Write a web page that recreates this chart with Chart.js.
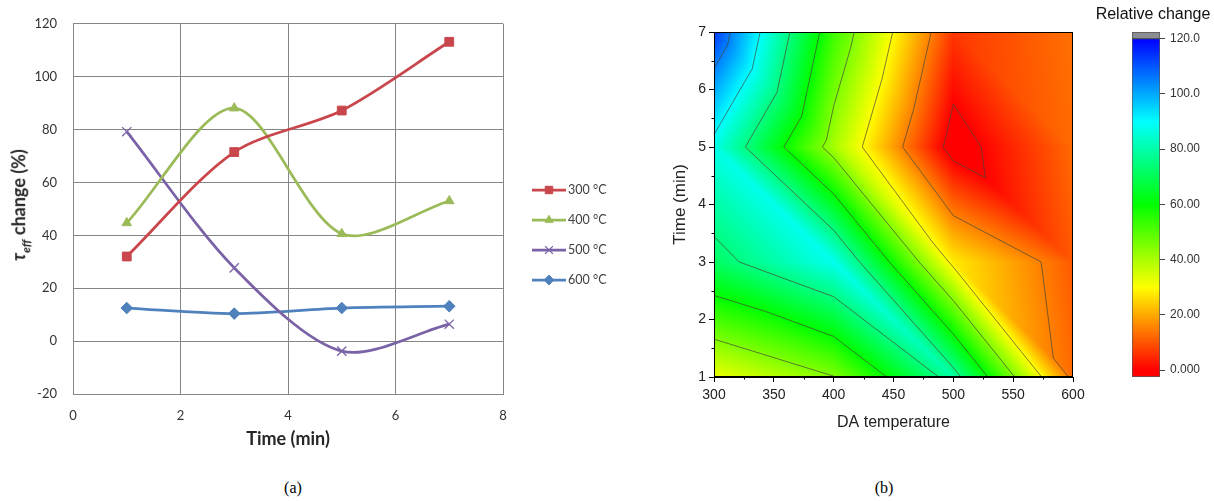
<!DOCTYPE html>
<html>
<head>
<meta charset="utf-8">
<script src="https://cdn.jsdelivr.net/npm/chart.js@4.4.1/dist/chart.umd.min.js"></script>
<style>
  body { margin: 0; background: #fff; }
  #wrap { position: relative; width: 1214px; height: 501px; overflow: hidden; background: #fff; }
  canvas { position: absolute; }
  .lbl { position: absolute; white-space: nowrap; }
  .cap { font: 16px "Liberation Serif", serif; color: #000; transform: translate(-50%, -50%); }
</style>
</head>
<body>
<div id="wrap">
  <canvas id="lineChart" width="640" height="460" style="left:0;top:0;width:640px;height:460px"></canvas>
  <div class="lbl" style="left:20px;top:205px;transform:translate(-50%,-50%) rotate(-90deg);font:bold 18px Lato, sans-serif;color:#262626">
    <i>τ<sub style="font-size:12px">eff</sub></i> change (%)
  </div>
  <canvas id="contourChart" width="440" height="440" style="left:660px;top:0;width:440px;height:440px"></canvas>
  <canvas id="cbChart" width="124" height="400" style="left:1090px;top:0;width:124px;height:400px"></canvas>
  <div class="lbl" style="left:1153px;top:14px;transform:translate(-50%,-50%);font:16px 'Liberation Sans', Arial, sans-serif;color:#111">Relative change</div>
  <div class="lbl cap" style="left:293px;top:488px">(a)</div>
  <div class="lbl cap" style="left:884px;top:488px">(b)</div>
</div>
<script>
// ---- data ----
const times = [1, 3, 5, 7];
const temps = [300, 400, 500, 600];
const tempLabels = ["300 °C", "400 °C", "500 °C", "600 °C"];
const change300 = [32.0, 71.5, 87.2, 113.2];
const change400 = [44.7, 88.1, 40.6, 53.0];
const change500 = [79.2, 27.7, -3.8, 6.4];
const change600 = [12.5, 10.4, 12.5, 13.2];

const contourLevels = [0, 15, 30, 45, 60, 75, 90, 105, 120];
const colorbarTicks = [0, 20, 40, 60, 80, 100, 120];
const colorbarRange = [-2.5, 120];
const colorbarCap = 122.4;

const grid = [change300, change400, change500, change600]; // grid[temp][time]

// ---- helpers ----
function rainbow(v) {
  const h = Math.max(0, Math.min(120, v)) * 2;
  const k = n => (n + h / 60) % 6;
  const f = n => 255 * (1 - Math.max(0, Math.min(k(n), 4 - k(n), 1)));
  return [f(5), f(3), f(1)];
}
function rainbowCss(v) {
  const c = rainbow(v);
  return `rgb(${c[0] | 0},${c[1] | 0},${c[2] | 0})`;
}
function cellIndex(arr, v) {
  let i = 0;
  while (i < arr.length - 2 && v > arr[i + 1]) i++;
  return i;
}
// linear interpolation on triangulated grid (diagonal top-left -> bottom-right)
function zAt(T, t) {
  const i = cellIndex(temps, T), j = cellIndex(times, t);
  const u = (T - temps[i]) / (temps[i + 1] - temps[i]);
  const v = (t - times[j]) / (times[j + 1] - times[j]);
  const zBL = grid[i][j], zBR = grid[i + 1][j], zTL = grid[i][j + 1], zTR = grid[i + 1][j + 1];
  if (u + v <= 1) return zBL + u * (zBR - zBL) + v * (zTL - zBL);
  return zTR + (1 - u) * (zTL - zTR) + (1 - v) * (zBR - zTR);
}

// ---- (a) line chart ----
const styles = [
  { color: "#C9474C", point: "rect", r: 6.2, bw: 1 },
  { color: "#9BBB59", point: "triangle", r: 5.5, bw: 1 },
  { color: "#7A62A6", point: "crossRot", r: 6.5, bw: 1.3 },
  { color: "#4F81BD", point: "rectRot", r: 5.8, bw: 1 }
];

const lineDatasets = grid.map((vals, k) => ({
  label: tempLabels[k],
  data: times.map((t, i) => ({ x: t, y: vals[i] })),
  showLine: true,
  borderColor: styles[k].color,
  backgroundColor: styles[k].color,
  borderWidth: 2.75,
  tension: 0.3,
  pointStyle: styles[k].point,
  pointRadius: styles[k].r,
  pointBorderWidth: styles[k].bw,
  pointBorderColor: styles[k].color,
  pointBackgroundColor: styles[k].color
}));

const legendTop = 190, legendStep = 30;
const sideLegend = {
  id: "sideLegend",
  afterDraw(chart) {
    const ctx = chart.ctx, ca = chart.chartArea;
    chart.data.datasets.forEach((ds, i) => {
      const y = legendTop + i * legendStep;
      const x0 = ca.right + 29, x1 = x0 + 34;
      ctx.save();
      ctx.strokeStyle = ds.borderColor;
      ctx.lineWidth = ds.borderWidth;
      ctx.beginPath(); ctx.moveTo(x0, y); ctx.lineTo(x1, y); ctx.stroke();
      ctx.fillStyle = ds.pointBackgroundColor;
      ctx.strokeStyle = ds.pointBorderColor;
      ctx.lineWidth = ds.pointBorderWidth;
      if (Chart.helpers && Chart.helpers.drawPoint) {
        Chart.helpers.drawPoint(ctx, { pointStyle: ds.pointStyle, rotation: 0, radius: ds.pointRadius * 0.85, borderWidth: ds.pointBorderWidth }, (x0 + x1) / 2, y);
      }
      ctx.fillStyle = "#404040";
      ctx.font = "12.5px Lato, sans-serif";
      ctx.textBaseline = "middle";
      ctx.fillText(ds.label, x1 + 2, y);
      ctx.restore();
    });
  }
};

const gridGray = "#868686";
new Chart(document.getElementById("lineChart"), {
  type: "scatter",
  data: { datasets: lineDatasets },
  options: {
    responsive: false,
    animation: false,
    devicePixelRatio: 1,
    layout: { padding: { top: 15, right: 137, left: 0, bottom: 0 } },
    plugins: { legend: { display: false }, tooltip: { enabled: false } },
    scales: {
      x: {
        type: "linear", min: 0, max: 8,
        ticks: { stepSize: 2, padding: 14, color: "#333", font: { family: "Lato", size: 13 } },
        grid: { color: gridGray, drawTicks: false },
        border: { color: gridGray },
        title: { display: true, text: "Time (min)", color: "#262626", font: { family: "Lato", size: 18, weight: "bold" }, padding: { top: 0, bottom: 10 } },
        afterFit: s => { s.height = 66; }
      },
      y: {
        min: -20, max: 120,
        ticks: { stepSize: 20, padding: 16, color: "#333", font: { family: "Lato", size: 13 } },
        grid: { color: gridGray, drawTicks: false },
        border: { color: gridGray },
        afterFit: s => { s.width = 73; }
      }
    }
  },
  plugins: [sideLegend]
});

// ---- (b) contour chart ----
const contourPlugin = {
  id: "contourFill",
  beforeDatasetsDraw(chart) {
    const { ctx, chartArea: ca } = chart;
    const sx = chart.scales.x, sy = chart.scales.y;
    const x0 = Math.round(ca.left), y0 = Math.round(ca.top);
    const w = Math.round(ca.right) - x0, h = Math.round(ca.bottom) - y0;
    const img = ctx.createImageData(w, h);
    for (let py = 0; py < h; py++) {
      const t = sy.getValueForPixel(y0 + py + 0.5);
      for (let px = 0; px < w; px++) {
        const T = sx.getValueForPixel(x0 + px + 0.5);
        const c = rainbow(zAt(T, t));
        const k = (py * w + px) * 4;
        img.data[k] = c[0]; img.data[k + 1] = c[1]; img.data[k + 2] = c[2]; img.data[k + 3] = 255;
      }
    }
    ctx.putImageData(img, x0, y0);

    // contour lines, marching triangles
    ctx.save();
    ctx.strokeStyle = "rgba(70,70,55,0.7)";
    ctx.lineWidth = 1;
    ctx.beginPath();
    const node = (i, j) => ({ T: temps[i], t: times[j], z: grid[i][j] });
    for (let i = 0; i < temps.length - 1; i++) {
      for (let j = 0; j < times.length - 1; j++) {
        const tris = [
          [node(i, j), node(i + 1, j), node(i, j + 1)],
          [node(i + 1, j + 1), node(i, j + 1), node(i + 1, j)]
        ];
        tris.forEach(tri => {
          contourLevels.forEach(L => {
            const pts = [];
            for (let e = 0; e < 3; e++) {
              const a = tri[e], b = tri[(e + 1) % 3];
              if ((a.z - L) * (b.z - L) < 0) {
                const f = (L - a.z) / (b.z - a.z);
                pts.push([sx.getPixelForValue(a.T + f * (b.T - a.T)), sy.getPixelForValue(a.t + f * (b.t - a.t))]);
              }
            }
            if (pts.length === 2) {
              ctx.moveTo(pts[0][0], pts[0][1]);
              ctx.lineTo(pts[1][0], pts[1][1]);
            }
          });
        });
      }
    }
    ctx.stroke();
    ctx.restore();
  },
  afterDraw(chart) {
    const { ctx, chartArea: ca } = chart;
    const sx = chart.scales.x, sy = chart.scales.y;
    ctx.save();
    ctx.strokeStyle = "#000";
    ctx.lineWidth = 1;
    const l = Math.round(ca.left) + 0.5, t = Math.round(ca.top) + 0.5;
    const r = Math.round(ca.right) - 0.5, b = Math.round(ca.bottom) - 0.5;
    ctx.strokeRect(l, t, r - l, b - t);
    ctx.beginPath();
    for (let k = 0; k < sx.ticks.length - 1; k++) {
      const px = Math.round(sx.getPixelForValue((sx.ticks[k].value + sx.ticks[k + 1].value) / 2)) + 0.5;
      ctx.moveTo(px, b); ctx.lineTo(px, b + 3);
    }
    for (let k = 0; k < sy.ticks.length - 1; k++) {
      const py = Math.round(sy.getPixelForValue((sy.ticks[k].value + sy.ticks[k + 1].value) / 2)) + 0.5;
      ctx.moveTo(l, py); ctx.lineTo(l - 3, py);
    }
    ctx.stroke();
    ctx.restore();
  }
};

const nodes = [];
temps.forEach((T, i) => times.forEach((t, j) => nodes.push({ x: T, y: t, z: grid[i][j] })));

const arial = "'Liberation Sans', Arial, sans-serif";
new Chart(document.getElementById("contourChart"), {
  type: "scatter",
  data: { datasets: [{ data: nodes, pointRadius: 0 }] },
  options: {
    responsive: false,
    animation: false,
    devicePixelRatio: 1,
    layout: { padding: { top: 32, right: 27, left: 0, bottom: 0 } },
    plugins: { legend: { display: false }, tooltip: { enabled: false } },
    scales: {
      x: {
        type: "linear", min: 300, max: 600,
        ticks: { stepSize: 50, padding: 5, color: "#222", font: { family: arial, size: 14 } },
        grid: { drawOnChartArea: false, tickLength: 5, color: "#000" },
        border: { color: "#000" },
        title: { display: true, text: "DA temperature", color: "#222", font: { family: arial, size: 16 }, padding: { top: 0, bottom: 8 } },
        afterFit: s => { s.height = 63; }
      },
      y: {
        min: 1, max: 7,
        ticks: { stepSize: 1, padding: 3, color: "#222", font: { family: arial, size: 14 } },
        grid: { drawOnChartArea: false, tickLength: 5, color: "#000" },
        border: { color: "#000" },
        title: { display: true, text: "Time (min)", color: "#222", font: { family: arial, size: 17 }, padding: { top: 10, bottom: 0 } },
        afterFit: s => { s.width = 54; }
      }
    }
  },
  plugins: [contourPlugin]
});

// ---- colour bar ----
function barGradient(c) {
  const chart = c.chart;
  if (!chart.chartArea) return "#f00";
  const ys = chart.scales.y;
  const g = chart.ctx.createLinearGradient(0, ys.getPixelForValue(0), 0, ys.getPixelForValue(120));
  for (let v = 0; v <= 120; v += 5) g.addColorStop(v / 120, rainbowCss(v));
  return g;
}

new Chart(document.getElementById("cbChart"), {
  type: "bar",
  data: {
    labels: [""],
    datasets: [
      { data: [colorbarRange], backgroundColor: barGradient, borderColor: "#555", borderWidth: 1, borderSkipped: false, categoryPercentage: 1, barPercentage: 1, grouped: false },
      { data: [[colorbarRange[1], colorbarCap]], backgroundColor: "#8a8d91", borderColor: "#555", borderWidth: 1, borderSkipped: false, categoryPercentage: 1, barPercentage: 1, grouped: false }
    ]
  },
  options: {
    responsive: false,
    animation: false,
    devicePixelRatio: 1,
    layout: { padding: { top: 32, right: 0, left: 42, bottom: 23 } },
    plugins: { legend: { display: false }, tooltip: { enabled: false } },
    scales: {
      x: { display: false },
      y: {
        position: "right",
        min: colorbarRange[0], max: colorbarCap,
        afterBuildTicks: s => { s.ticks = colorbarTicks.map(v => ({ value: v })); },
        ticks: {
          padding: 5, color: "#333", font: { family: arial, size: 12 },
          callback: v => (v === 0 ? "0.000" : Number(v).toPrecision(4))
        },
        grid: { drawOnChartArea: false, tickLength: 5, color: "#444" },
        border: { display: false },
        afterFit: s => { s.width = 54; }
      }
    }
  }
});
</script>
</body>
</html>
